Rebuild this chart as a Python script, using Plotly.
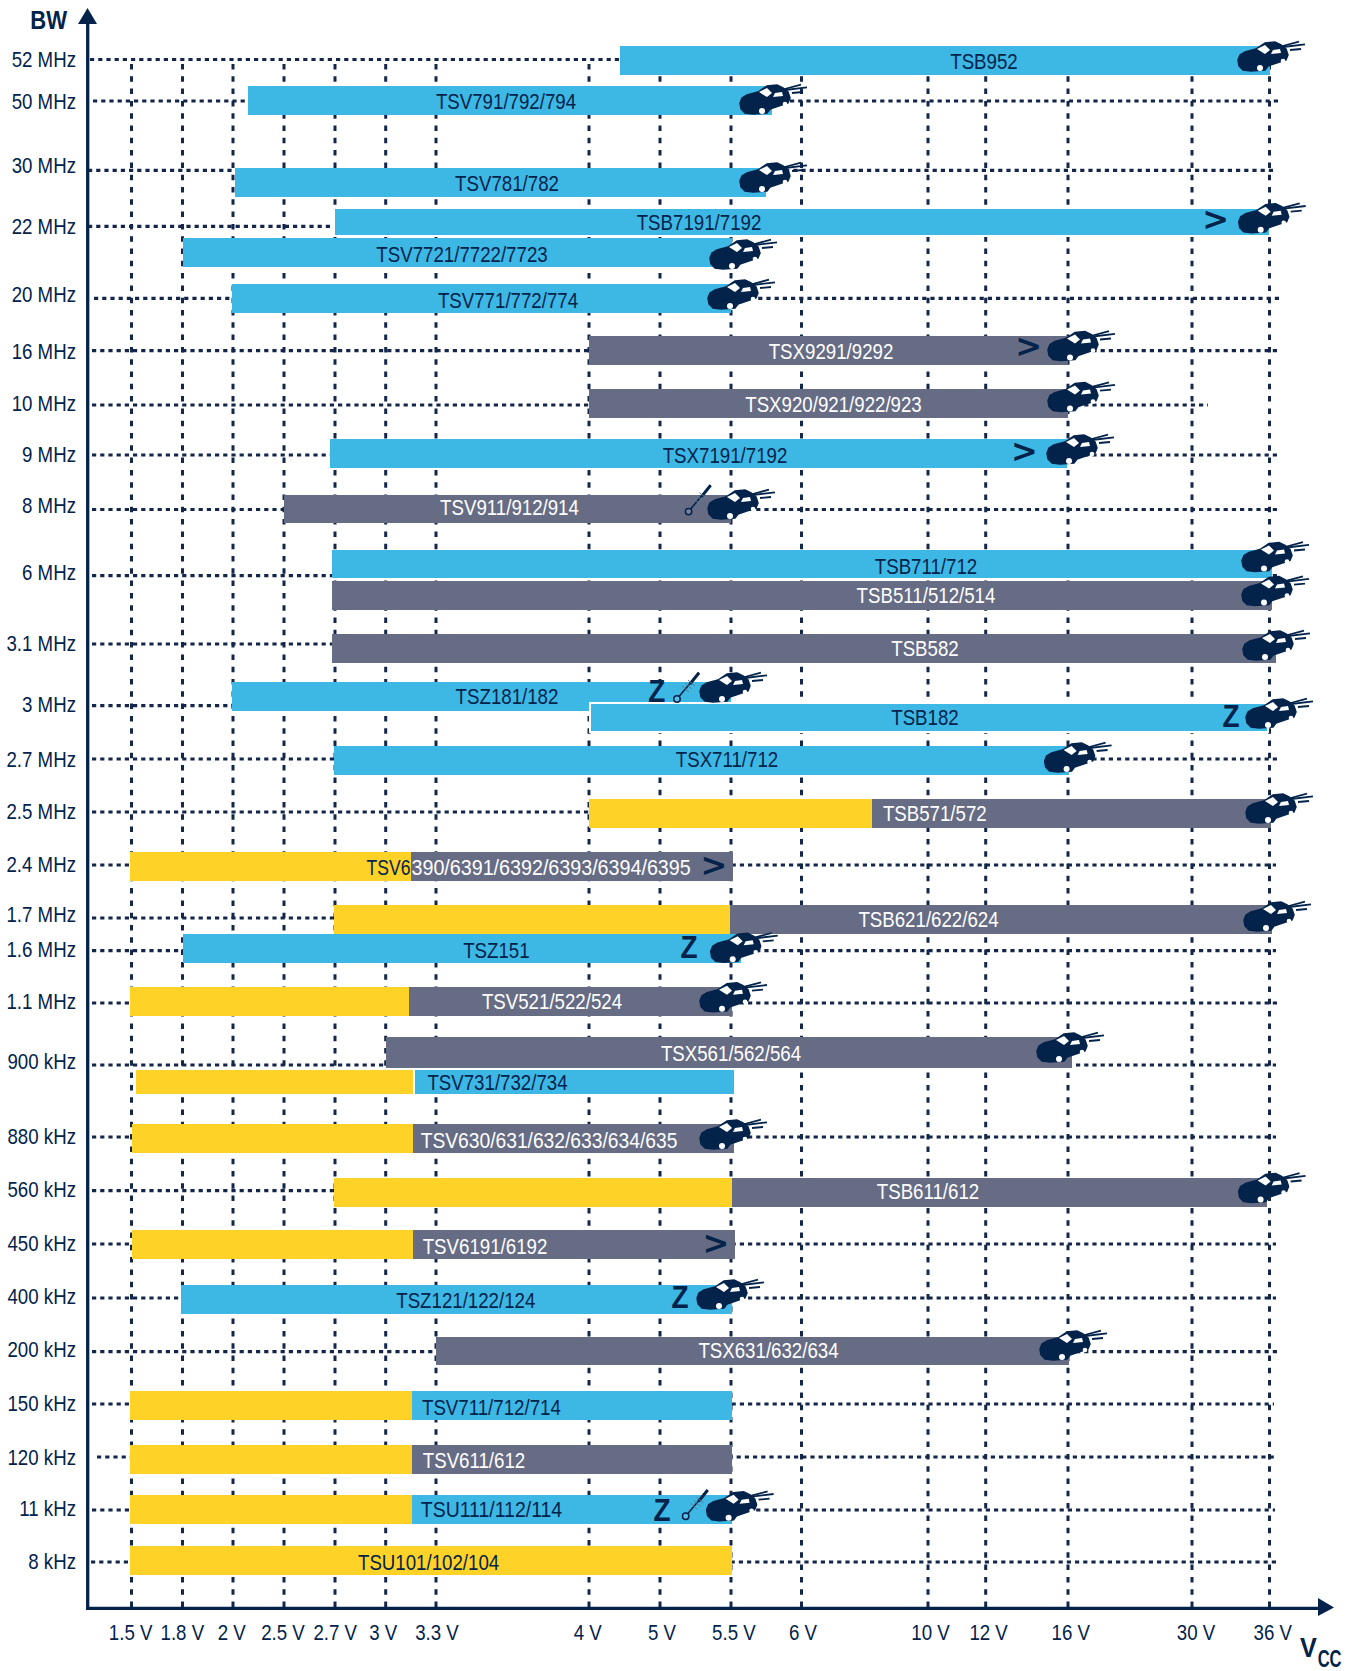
import numpy as np
import plotly.graph_objects as go

# ---------- data ----------
VOLT_TICKS = [1.5, 1.8, 2, 2.5, 2.7, 3, 3.3, 4, 5, 5.5, 6, 10, 12, 16, 30, 36]
VOLT_LABELS = ["1.5 V", "1.8 V", "2 V", "2.5 V", "2.7 V", "3 V", "3.3 V", "4 V", "5 V",
               "5.5 V", "6 V", "10 V", "12 V", "16 V", "30 V", "36 V"]
BW_LABELS = ["52 MHz", "50 MHz", "30 MHz", "22 MHz", "20 MHz", "16 MHz", "10 MHz", "9 MHz", "8 MHz",
             "6 MHz", "3.1 MHz", "3 MHz", "2.7 MHz", "2.5 MHz", "2.4 MHz", "1.7 MHz", "1.6 MHz",
             "1.1 MHz", "900 kHz", "880 kHz", "560 kHz", "450 kHz", "400 kHz", "200 kHz", "150 kHz",
             "120 kHz", "11 kHz", "8 kHz"]
PARTS = ["TSB952", "TSV791/792/794", "TSV781/782", "TSV7721/7722/7723", "TSB7191/7192", "TSV771/772/774",
         "TSX9291/9292", "TSX920/921/922/923", "TSX7191/7192", "TSV911/912/914", "TSB711/712",
         "TSB511/512/514", "TSB582", "TSZ181/182", "TSB182", "TSX711/712", "TSB571/572",
         "TSV6390/6391/6392/6393/6394/6395", "TSB621/622/624", "TSZ151", "TSV521/522/524",
         "TSX561/562/564", "TSV731/732/734", "TSV630/631/632/633/634/635", "TSB611/612",
         "TSV6191/6192", "TSZ121/122/124", "TSX631/632/634", "TSV711/712/714", "TSV611/612",
         "TSU111/112/114", "TSU101/102/104"]
V_LOW = [4.44, 2.15, 2.02, 1.8, 2.695, 1.995, 4, 4, 2.68, 2.5, 2.69, 2.69, 2.69, 1.995, 4.02, 2.695, 4,
         1.49, 2.695, 1.8, 1.49, 3, 1.52, 1.5, 2.695, 1.5, 1.79, 3.3, 1.49, 1.49, 1.49, 1.49]
V_SPLIT = [None, None, None, None, None, None, None, None, None, None, None, None, None, None, None,
           None, 8.23, 3.15, 5.49, None, 3.14, None, 3.17, 3.16, 5.51, 3.16, None, None, 3.155, 3.155,
           3.155, None]
V_HIGH = [36, 5.79, 5.75, 5.51, 36, 5.5, 16, 16, 15.95, 5.5, 36.16, 36.16, 36.5, 5.5, 35.9, 16.1, 36.1,
          5.515, 36.2, 5.57, 5.51, 16.45, 5.53, 5.52, 35.8, 5.53, 5.51, 16.1, 5.51, 5.51, 5.51, 5.51]
KIND = ["b", "b", "b", "b", "b", "b", "g", "g", "b", "g", "b", "g", "g", "b", "b", "b", "g",
        "g", "g", "b", "g", "g", "b", "g", "g", "g", "b", "g", "b", "g", "b", "y"]

# ---------- layout of the schematic (page pixels) ----------
VOLT_POS = [131.5, 182.5, 233, 284, 335, 385.7, 436, 589, 660, 731, 801.5, 928, 985.7, 1068, 1192, 1269.5]
VOLT_LABEL_POS = [130.6, 182.3, 231.8, 283, 335.2, 383.2, 437, 587.8, 662, 733.9, 803, 930.5, 988.6, 1070.7,
                  1196, 1272.7]
BW_TICK_Y = [59.3, 101, 165, 226, 294, 350.7, 403, 454, 505, 572, 643, 704.6, 759, 811, 864.5, 914.5,
             948.7, 1001, 1061.6, 1136, 1189.5, 1243, 1296, 1349.5, 1403, 1457, 1508, 1561.5]
ROW_Y = [60.3, 100.5, 182.3, 252.3, 222, 298.3, 350.2, 403.4, 453.5, 509, 563.9, 595.4, 648.5, 696.5,
         717.5, 760.5, 813.7, 866.3, 919.3, 948.3, 1001.3, 1052.6, 1082, 1138.7, 1192.3, 1244.5, 1299.7,
         1351, 1405.5, 1459.3, 1509.3, 1560.5]
ROW_H = [28.7] * 32
ROW_H[21] = 31
ROW_H[22] = 26
LABEL_X = [984, 506, 507, 462, 699, 508, 831, 833.5, 725, 509.5, 926, 926, 925, 507, 925, 727, 934.8,
           0, 928.5, 496.4, 552, 731, 497.5, 549, 928, 485, 465.8, 768.5, 491.4, 474, 491.5, 428.6]
LABEL_Y = [61, 101, 183.5, 254, 222, 300.6, 351, 404, 455, 507.4, 566, 595, 648, 696, 717.4, 759, 813,
           867, 919, 950, 1001, 1053, 1082, 1140.5, 1191.7, 1246, 1300, 1350.5, 1407, 1460, 1509, 1562]
GRID_Y = [59.5, 101, 170.3, 226.3, 298.3, 350.7, 405, 455, 509.5, 575.6, 644, 705.6, 759, 812, 865, 918,
          950.7, 1003, 1065, 1137, 1190.6, 1244, 1298, 1351.6, 1404, 1457, 1510, 1562]
GRID_X0 = [90, 93, 88, 88, 94, 92, 92, 92, 92, 92, 92, 92, 92, 92, 92, 92, 92, 92, 92, 92, 92, 92, 92,
           92, 92, 97, 92, 91]
GRID_X1 = [620, 1281, 1276, 1270, 1283, 1279, 1208, 1281, 1279, 1279, 1276, 1279, 1277, 1276, 1276,
           1279, 1276, 1279, 1276, 1276, 1279, 1276, 1276, 1277, 1274, 1275, 1275, 1279]
CAR_XY = [(1238, 41), (740, 84), (740, 162), (1238.7, 202.7), (710, 239), (708, 279), (1048, 330.5),
          (1048, 381.6), (1047, 434), (708, 489), (1242, 541.5), (1242, 575.6), (1243, 630), (700, 672),
          (1246, 698), (1044.6, 742), (1246, 793), (1244, 901), (710.7, 932.3), (700, 981.7),
          (1037, 1032), (700, 1119), (1238.6, 1172.5), (697, 1279), (1040, 1330), (706.6, 1490.7)]
THERMO_XY = [(688.6, 511.6), (677, 699), (685.7, 1516.3)]
Z_XY = [(656.8, 694), (1231, 719), (689, 950), (680, 1300), (662, 1513.7)]
GT_XY = [(1215.7, 221.5), (1028.6, 349), (1024.3, 453.5), (714, 867.5), (716, 1245.5)]

NAVY = "#03234B"
GRID = "#14264A"
COLORS = {"b": "#3DB7E4", "g": "#676C85", "y": "#FFD227"}
YELLOW = COLORS["y"]
FONT = "Liberation Sans"
LABEL_SIZE = 22.5
TICK_SIZE = 22.5
OUTLINED = {"TSB7191/7192", "TSB182", "TSV731/732/734"}

L, R, T, B = 88, 1320, 20, 1608


def vx(v):
    return float(np.interp(v, [1.0] + VOLT_TICKS + [40], [46.5] + VOLT_POS + [1321]))


fig = go.Figure()

# grid
for x in VOLT_POS:
    fig.add_trace(go.Scatter(x=[x, x], y=[64, B], mode="lines", hoverinfo="skip", zorder=0,
                             line=dict(color=GRID, width=3, dash="5.5px,6.8px")))
for y, x0, x1 in zip(GRID_Y, GRID_X0, GRID_X1):
    fig.add_trace(go.Scatter(x=[x0, x1], y=[y, y], mode="lines", hoverinfo="skip", zorder=0,
                             line=dict(color=GRID, width=3.2, dash="4.2px,4px")))


def add_bar(y, h, x0, x1, color, outlined):
    fig.add_trace(go.Bar(orientation="h", y=[y], x=[x1 - x0], base=[x0], width=[h], zorder=1,
                         marker=dict(color=color, line=dict(color="white", width=2 if outlined else 0)),
                         hoverinfo="skip"))


for i, name in enumerate(PARTS):
    lo, sp, hi = vx(V_LOW[i]), V_SPLIT[i], vx(V_HIGH[i])
    col = COLORS[KIND[i]]
    out = name in OUTLINED
    if sp is None:
        add_bar(ROW_Y[i], ROW_H[i], lo, hi, col, out)
    else:
        add_bar(ROW_Y[i], ROW_H[i], lo, vx(sp), YELLOW, out)
        add_bar(ROW_Y[i], ROW_H[i], vx(sp), hi, col, out)

# bar labels
for i, name in enumerate(PARTS):
    if name.startswith("TSV6390"):
        fig.add_trace(go.Scatter(x=[410.5], y=[LABEL_Y[i] + 2], mode="text", text=["TSV6"], zorder=2,
                                 textposition="middle left", hoverinfo="skip",
                                 textfont=dict(family=FONT, size=LABEL_SIZE, color=NAVY)))
        fig.add_trace(go.Scatter(x=[411.5], y=[LABEL_Y[i] + 2], mode="text", text=[name[4:]], zorder=2,
                                 textposition="middle right", hoverinfo="skip",
                                 textfont=dict(family=FONT, size=LABEL_SIZE, color="white")))
        continue
    c = "white" if KIND[i] == "g" else NAVY
    fig.add_trace(go.Scatter(x=[LABEL_X[i]], y=[LABEL_Y[i] + 2], mode="text", text=[name], zorder=2,
                             textposition="middle center", hoverinfo="skip",
                             textfont=dict(family=FONT, size=LABEL_SIZE, color=c)))

# Z and > markers
fig.add_trace(go.Scatter(x=[p[0] for p in Z_XY], y=[p[1] for p in Z_XY], mode="text", text=["Z"] * len(Z_XY),
                         zorder=2, textposition="middle center", hoverinfo="skip",
                         textfont=dict(family="Liberation Sans", size=31, color=NAVY, weight="bold")))
fig.add_trace(go.Scatter(x=[p[0] for p in GT_XY], y=[p[1] for p in GT_XY], mode="text", text=[">"] * len(GT_XY),
                         zorder=2, textposition="middle center", hoverinfo="skip",
                         textfont=dict(family="DejaVu Sans", size=32, color=NAVY, weight="bold")))

# ---------- icons ----------
BODY = [(0, 19), (2, 14), (7, 11), (18, 8), (27, 2), (37, 1), (43, 4), (48, 8), (50, 14), (48, 19), (30, 25),
        (27, 29), (13, 30), (5, 29), (1, 25)]
SHIELD = [(19, 8), (27, 4), (32, 9), (27, 13)]
SIDE = [(33, 13), (35, 9), (42, 8), (43, 12)]
STREAKS = [((41, 6), (61, 0.7)), ((45, 6), (67, 3.3)), ((52, 9), (63, 8))]
shapes = []


def poly(ax, ay, pts):
    return "M " + " L ".join(f"{ax + p[0]:.1f},{ay + p[1]:.1f}" for p in pts) + " Z"


for ax, ay in CAR_XY:
    shapes.append(dict(type="path", xref="x", yref="y", path=poly(ax, ay, BODY), fillcolor=NAVY,
                       line=dict(color=NAVY, width=1.5)))
    for w in (SHIELD, SIDE):
        shapes.append(dict(type="path", xref="x", yref="y", path=poly(ax, ay, w), fillcolor="white", line_width=0))
    for a, b in STREAKS:
        shapes.append(dict(type="line", xref="x", yref="y", x0=ax + a[0], y0=ay + a[1], x1=ax + b[0], y1=ay + b[1],
                           line=dict(color=NAVY, width=1.8)))
    for cx, cy, r in ((22, 27, 3), (45, 20, 2.3)):
        shapes.append(dict(type="circle", xref="x", yref="y", x0=ax + cx - r, x1=ax + cx + r,
                           y0=ay + cy - r, y1=ay + cy + r, fillcolor="white", line_width=0))
for bx, by in THERMO_XY:
    shapes.append(dict(type="line", xref="x", yref="y", x0=bx + 2, y0=by - 2.5, x1=bx + 22, y1=by - 26.3,
                       line=dict(color=NAVY, width=1.6)))
    shapes.append(dict(type="line", xref="x", yref="y", x0=bx + 13, y0=by - 15, x1=bx + 22, y1=by - 26.3,
                       line=dict(color=NAVY, width=3)))
    for t in (8, 11, 14):
        shapes.append(dict(type="line", xref="x", yref="y", x0=bx + t - 3, y0=by - t - 5, x1=bx + t + 4, y1=by - t + 1,
                           line=dict(color="#5F7C95", width=1)))
    shapes.append(dict(type="circle", xref="x", yref="y", x0=bx - 3.2, x1=bx + 3.2, y0=by - 3.2, y1=by + 3.2,
                       fillcolor="rgba(255,255,255,0.15)", line=dict(color=NAVY, width=1.5)))


# axis lines and arrows (page pixels -> paper fractions)
def pxp(x):
    return (x - L) / (R - L)


def pyp(y):
    return (B - y) / (B - T)


shapes.append(dict(type="line", xref="paper", yref="paper", x0=pxp(87.7), x1=pxp(87.7), y0=pyp(1609.8), y1=pyp(22),
                   line=dict(color=NAVY, width=3.3)))
shapes.append(dict(type="line", xref="paper", yref="paper", x0=pxp(86), x1=pxp(1320), y0=pyp(1608.3), y1=pyp(1608.3),
                   line=dict(color=NAVY, width=3.3)))
shapes.append(dict(type="path", xref="paper", yref="paper", fillcolor=NAVY, line_width=0,
                   path=f"M {pxp(78)},{pyp(24)} L {pxp(87.5)},{pyp(8)} L {pxp(97)},{pyp(24)} Z"))
shapes.append(dict(type="path", xref="paper", yref="paper", fillcolor=NAVY, line_width=0,
                   path=f"M {pxp(1318)},{pyp(1598)} L {pxp(1334)},{pyp(1607.5)} L {pxp(1318)},{pyp(1616)} Z"))

annotations = [
    dict(text="BW", xref="paper", yref="paper", x=pxp(48.5), y=pyp(19.5), showarrow=False,
         xanchor="center", yanchor="middle", font=dict(family=FONT, size=26, color=NAVY, weight="bold")),
    dict(text="V", xref="paper", yref="paper", x=pxp(1308.5), y=pyp(1647), showarrow=False,
         xanchor="center", yanchor="middle", font=dict(family=FONT, size=28, color=NAVY, weight="bold")),
    dict(text="CC", xref="paper", yref="paper", x=pxp(1329.5), y=pyp(1658.5), showarrow=False,
         xanchor="center", yanchor="middle", font=dict(family=FONT, size=23, color=NAVY, weight="bold")),
]

fig.update_layout(
    width=1359, height=1671, autosize=False, showlegend=False, barmode="overlay", bargap=0,
    paper_bgcolor="white", plot_bgcolor="white",
    margin=dict(l=L, r=1359 - R, t=T, b=1671 - B, pad=0),
    shapes=shapes, annotations=annotations,
    xaxis=dict(range=[L, R], tickmode="array", tickvals=VOLT_LABEL_POS, ticktext=VOLT_LABELS, showgrid=False,
               zeroline=False, showline=False, ticks="", ticklabelstandoff=8, automargin=False,
               tickangle=0, tickfont=dict(family=FONT, size=TICK_SIZE, color=NAVY)),
    yaxis=dict(range=[B, T], tickmode="array", tickvals=BW_TICK_Y, ticktext=BW_LABELS, showgrid=False,
               zeroline=False, showline=False, ticks="", ticklabelstandoff=11, automargin=False,
               tickfont=dict(family=FONT, size=TICK_SIZE, color=NAVY)),
)

# The reference uses a condensed grotesque; none is installed, so the Liberation Sans glyphs are narrowed.
CONDENSE = """
document.body.style.margin = '0';
var special = {'>': 1, 'Z': 0.9, 'BW': 0.85, 'V': 0.9, 'CC': 0.72, 'TSV6': 0.78,
  '390/6391/6392/6393/6394/6395': 0.875, 'TSV630/631/632/633/634/635': 0.855, 'TSU111/112/114': 0.865};
function condense() {
  document.querySelectorAll('svg text').forEach(function (t) {
    if (t.dataset.narrowed || !t.textContent) return;
    var w = t.getComputedTextLength();
    if (!w) return;
    var s = special[t.textContent] || 0.83;
    t.setAttribute('textLength', w * s);
    t.setAttribute('lengthAdjust', 'spacingAndGlyphs');
    t.dataset.narrowed = '1';
  });
}
condense();
setTimeout(condense, 100);
"""
fig.write_html("out.html", post_script=CONDENSE, config={"displayModeBar": False})
